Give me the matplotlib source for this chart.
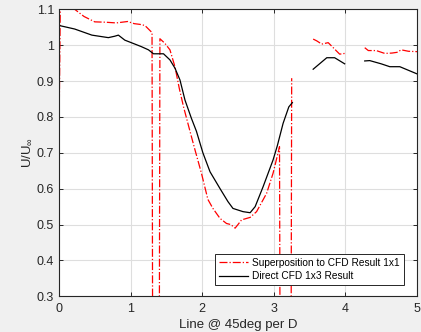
import numpy as np
import matplotlib
matplotlib.use("Agg")
import matplotlib.pyplot as plt

plt.rcParams["font.family"] = ["Liberation Sans", "DejaVu Sans"]
plt.rcParams["mathtext.fontset"] = "custom"
plt.rcParams["mathtext.rm"] = "Liberation Sans"
plt.rcParams["mathtext.it"] = "Liberation Sans"

# Superposition (red, dash-dot); NaN = gap, 0 = drops below axis
sup_x = [0.0, 0.02, 0.12, 0.22, 0.35, 0.5, 0.65, 0.8, 0.96, 1.05, 1.13, 1.2, 1.3, 1.31,
         1.40, 1.41, 1.48, 1.55, 1.62, 1.68, 1.74, 1.83, 1.90, 1.99, 2.08, 2.15, 2.25,
         2.34, 2.40, 2.46, 2.50, 2.55, 2.67, 2.76, 2.90, 2.99, 3.06, 3.08, 3.09, 3.24,
         3.25, 3.40,
         3.55, 3.60, 3.67, 3.76, 3.87, 3.92, 3.99, 4.1,
         4.27, 4.32, 4.43, 4.55, 4.65, 4.72, 4.78, 4.88, 5.0]
sup_y = [0.73, 1.13, 1.12, 1.10, 1.08, 1.065, 1.064, 1.062, 1.066, 1.06, 1.058, 1.055, 1.035, 0.0,
         0.0, 1.018, 1.005, 0.987, 0.94, 0.88, 0.828, 0.76, 0.708, 0.643, 0.57, 0.545, 0.517,
         0.503, 0.50, 0.49, 0.50, 0.513, 0.52, 0.536, 0.587, 0.643, 0.70, 0.717, 0.0, 0.0,
         0.908, np.nan,
         1.017, 1.012, 1.003, 1.007, 0.985, 0.975, 0.977, np.nan,
         0.993, 0.985, 0.985, 0.977, 0.978, 0.98, 0.987, 0.983, 0.982]

# Direct CFD (black, solid)
cfd_x = [0.0, 0.22, 0.46, 0.69, 0.78, 0.83, 0.92, 1.01, 1.15, 1.25, 1.32, 1.46, 1.55,
         1.62, 1.69, 1.76, 1.85, 1.92, 2.01, 2.11, 2.25, 2.36, 2.43, 2.57, 2.67, 2.74,
         2.85, 2.99, 3.05, 3.13, 3.21, 3.26, 3.40,
         3.55, 3.74, 3.85, 3.99, 4.1,
         4.27, 4.34, 4.50, 4.62, 4.76, 5.0]
cfd_y = [1.055, 1.045, 1.028, 1.021, 1.025, 1.028, 1.014, 1.007, 0.996, 0.987, 0.976, 0.976, 0.959,
         0.936, 0.903, 0.847, 0.796, 0.76, 0.70, 0.647, 0.60, 0.564, 0.545, 0.536, 0.533, 0.55,
         0.605, 0.68, 0.72, 0.782, 0.828, 0.84, np.nan,
         0.933, 0.965, 0.965, 0.948, np.nan,
         0.956, 0.957, 0.948, 0.94, 0.94, 0.92]

x_ticks = [0, 1, 2, 3, 4, 5]
y_ticks = [0.3, 0.4, 0.5, 0.6, 0.7, 0.8, 0.9, 1.0, 1.1]
y_ticklabels = ["0.3", "0.4", "0.5", "0.6", "0.7", "0.8", "0.9", "1", "1.1"]

fig = plt.figure(figsize=(4.21, 3.32), dpi=100, facecolor="#f0f0f0")
ax = fig.add_axes([0.140, 0.1075, 0.8505, 0.8645])

ax.plot(sup_x, sup_y, "-.", color="red", lw=0.9, label="Superposition to CFD Result 1x1")
ax.plot(cfd_x, cfd_y, "-", color="black", lw=0.9, label="Direct CFD 1x3 Result")

ax.set_xlim(0, 5)
ax.set_ylim(0.3, 1.1)
ax.set_xticks(x_ticks)
ax.set_yticks(y_ticks)
ax.set_yticklabels(y_ticklabels)
ax.grid(True, color="#dedede", lw=0.8)
ax.set_axisbelow(True)

ax.tick_params(direction="in", top=True, right=True, length=3, width=0.7,
               colors="#262626", labelsize=9)
ax.tick_params(axis="x", pad=5)
for s in ax.spines.values():
    s.set_color("#262626")
    s.set_linewidth(0.8)

ax.set_xlabel("Line @ 45deg per D", fontsize=9.5, color="#262626", labelpad=3)
ax.set_ylabel(r"U/U$_\infty$", fontsize=9.5, color="#262626", labelpad=2)

leg = ax.legend(loc="lower right", bbox_to_anchor=(0.964, 0.039), borderaxespad=0,
                fontsize=7.3, fancybox=False, framealpha=1, edgecolor="#262626",
                handlelength=2.9, borderpad=0.4, labelspacing=0.3, handletextpad=0.4)
leg.get_frame().set_linewidth(0.7)

fig.savefig("out.png", dpi=100, facecolor=fig.get_facecolor())
